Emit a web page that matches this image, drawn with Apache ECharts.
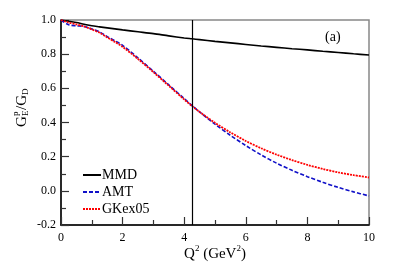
<!DOCTYPE html>
<html><head><meta charset="utf-8">
<script src="https://cdn.jsdelivr.net/npm/echarts@6/dist/echarts.min.js"></script>
<style>html,body{margin:0;padding:0;background:#fff}#c{width:410px;height:277px}</style>
</head><body><div id="c"></div>
<script>
const q2 = [0,0.25,0.5,0.75,1,1.25,1.5,1.75,2,2.5,3,3.5,4,4.25,4.5,5,5.5,6,6.5,7,7.5,8,8.5,9,9.5,10];
const mmd = [1.0,0.993,0.985,0.975,0.966,0.96,0.954,0.948,0.942,0.931,0.92,0.907,0.895,0.89,0.885,0.875,0.866,0.857,0.848,0.84,0.832,0.825,0.817,0.81,0.802,0.795];
const amt = [1.0,0.972,0.966,0.962,0.948,0.93,0.903,0.878,0.852,0.778,0.70,0.62,0.54,0.50,0.462,0.39,0.325,0.265,0.21,0.162,0.12,0.083,0.05,0.02,-0.006,-0.03];
const gkex05 = [1.0,0.985,0.975,0.962,0.945,0.926,0.898,0.872,0.843,0.772,0.695,0.615,0.535,0.497,0.462,0.398,0.342,0.292,0.249,0.212,0.18,0.152,0.128,0.108,0.092,0.078];
const markerX = 4.25;
const seriesNames = ['MMD','AMT','GKex05'];
const panelLabel = '(a)';

const F = 'Liberation Serif';
const chart = echarts.init(document.getElementById('c'), null, {renderer:'canvas'});
const pairs = arr => q2.map((x,i)=>[x,arr[i]]);
chart.setOption({
  animation:false,
  grid:{left:61,right:41,top:20,bottom:52,show:true,borderColor:'#888',borderWidth:1.5,backgroundColor:'transparent'},
  xAxis:{type:'value',min:0,max:10,interval:2,
    axisLine:{show:true,onZero:false,lineStyle:{color:'#000',width:1.5}},
    axisTick:{show:true,inside:true,length:8,lineStyle:{color:'#333',width:1.2}},
    minorTick:{show:true,splitNumber:2,length:5,lineStyle:{color:'#333',width:1.2}},
    splitLine:{show:false},
    axisLabel:{fontFamily:F,fontSize:12,color:'#000',margin:7}},
  yAxis:{type:'value',min:-0.2,max:1.0,interval:0.2,
    axisLine:{show:true,onZero:false,lineStyle:{color:'#000',width:1.5}},
    axisTick:{show:true,inside:true,length:8,lineStyle:{color:'#333',width:1.2}},
    minorTick:{show:true,splitNumber:2,length:5,lineStyle:{color:'#333',width:1.2}},
    splitLine:{show:false},
    axisLabel:{fontFamily:F,fontSize:12,color:'#000',margin:5,formatter:v=>v.toFixed(1)}},
  legend:{orient:'vertical',left:77,top:163,itemWidth:18,itemHeight:10,itemGap:3,
    itemStyle:{opacity:0,borderWidth:0},
    textStyle:{fontFamily:F,fontSize:14,color:'#000',padding:[0,0,0,-4]},
    data:seriesNames},
  series:[
    {name:seriesNames[0],type:'line',data:pairs(mmd),smooth:0.3,symbol:'none',
      lineStyle:{color:'#000',width:1.6},itemStyle:{color:'#000'},
      markLine:{silent:true,symbol:'none',label:{show:false},
        lineStyle:{color:'#000',type:'solid',width:1.2},data:[{xAxis:markerX}]}},
    {name:seriesNames[1],type:'line',data:pairs(amt),smooth:0.3,symbol:'none',
      lineStyle:{color:'#1010c8',width:1.6,type:[4,2]},itemStyle:{color:'#1010c8'}},
    {name:seriesNames[2],type:'line',data:pairs(gkex05),smooth:0.3,symbol:'none',
      lineStyle:{color:'#ff0000',width:1.8,type:[2,1]},itemStyle:{color:'#ff0000'}}
  ],
  graphic:[
    {type:'text',left:325,top:30,style:{text:panelLabel,fontFamily:F,fontSize:14,fill:'#000'}},
    {type:'text',x:215,y:253,style:{text:'{a|Q}{s|2}{a| (GeV}{s|2}{a|)}',align:'center',verticalAlign:'middle',
      rich:{a:{fontFamily:F,fontSize:15,fill:'#000',verticalAlign:'bottom',lineHeight:18},
            s:{fontFamily:F,fontSize:9,fill:'#000',verticalAlign:'top',lineHeight:18}}}},
    {type:'group',x:22,y:107,rotation:Math.PI/2,children:[
      {type:'text',x:-20,y:0,style:{text:'G',fontFamily:F,fontSize:15,fill:'#000',verticalAlign:'middle'}},
      {type:'text',x:-9,y:-6,style:{text:'p',fontFamily:F,fontSize:9,fill:'#000',verticalAlign:'middle'}},
      {type:'text',x:-9,y:4,style:{text:'E',fontFamily:F,fontSize:9,fill:'#000',verticalAlign:'middle'}},
      {type:'text',x:-3,y:0,style:{text:'/G',fontFamily:F,fontSize:15,fill:'#000',verticalAlign:'middle'}},
      {type:'text',x:12,y:4,style:{text:'D',fontFamily:F,fontSize:9,fill:'#000',verticalAlign:'middle'}}
    ]}
  ]
});
</script></body></html>
